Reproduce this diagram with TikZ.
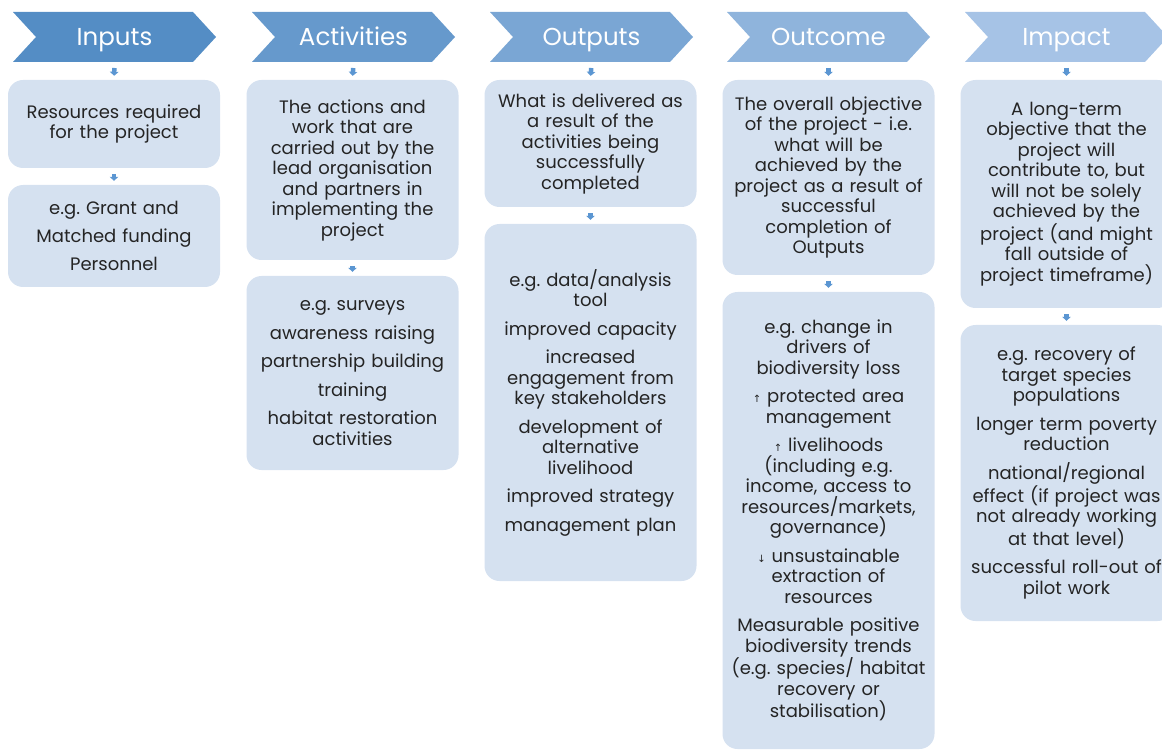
\documentclass[tikz,border=0pt]{standalone}
\usepackage{fontspec}
\setmainfont{Poppins}
\newfontfamily\arrowfont{DejaVu Sans}
\usetikzlibrary{arrows.meta}
\frenchspacing
\definecolor{cA}{HTML}{548DC5}
\definecolor{cB}{HTML}{6699CC}
\definecolor{cC}{HTML}{7AA6D4}
\definecolor{cD}{HTML}{8FB4DC}
\definecolor{cE}{HTML}{A6C3E6}
\definecolor{boxc}{HTML}{D5E1F0}
\definecolor{arrc}{HTML}{5B96D2}
\definecolor{txt}{HTML}{242424}
\newcommand\chev[2]{\fill[#2] (#1,12) -- ++(180,0) -- ++(23,25) -- ++(-23,25) -- ++(-180,0) -- ++(23,-25) -- cycle;}
\newcommand\up{{\arrowfont\fontsize{10}{10}\selectfont ↑}}
\newcommand\dn{{\arrowfont\fontsize{10}{10}\selectfont ↓}}
\begin{document}
\begin{tikzpicture}[x=1pt,y=-1pt,
  hdr/.style={text=white,font=\fontsize{24.5}{28}\selectfont,inner sep=0pt,anchor=base},
  box/.style={fill=boxc,rounded corners=15pt,minimum width=212pt,text width=208pt,align=center,
    font=\fontsize{18}{20.5}\selectfont,text=txt,inner sep=0pt},
  con/.style={draw=arrc,line width=4.5pt,-{Triangle[width=8.5pt,length=4pt]},shorten <=6pt,shorten >=4pt}]
\useasboundingbox (0,0) rectangle (1162,751);
\chev{13}{cA}
\chev{252}{cB}
\chev{490}{cC}
\chev{727}{cD}
\chev{965}{cE}
\node[hdr] (h1) at (114.5,45.5) {Inputs};
\node[hdr] (h2) at (353.5,45.5) {Activities};
\node[hdr] (h3) at (591.5,45.5) {Outputs};
\node[hdr] (h4) at (828.5,45.5) {Outcome};
\node[hdr] (h5) at (1066.5,45.5) {Impact};
% Inputs
\node[box,minimum height=88pt] (a1) at (114,124) {Resources required\\for the project};
\node[box,minimum height=102pt] (a2) at (114,236) {e.g. Grant and\\[7.5pt]Matched funding\\[7.5pt]Personnel};
% Activities
\node[box,minimum height=180pt] (b1) at (352.5,170) {The actions and\\work that are\\carried out by the\\lead organisation\\and partners in\\implementing the\\project};
\node[box,minimum height=194pt] (b2) at (352.5,373) {e.g. surveys\\[8pt]awareness raising\\[8pt]partnership building\\[8pt]training\\[8pt]habitat restoration\\activities};
% Outputs
\node[box,minimum height=127pt] (c1) at (590.5,143.5) {What is delivered as\\a result of the\\activities being\\successfully\\completed};
\node[box,minimum height=357pt] (c2) at (590.5,402.5) {e.g. data/analysis\\tool\\[8pt]improved capacity\\[8pt]increased\\engagement from\\key stakeholders\\[8pt]development of\\alternative\\livelihood\\[8pt]improved strategy\\[8pt]management plan};
% Outcome
\node[box,minimum height=195pt] (d1) at (828.5,177.5) {The overall objective\\of the project - i.e.\\what will be\\achieved by the\\project as a result of\\successful\\completion of\\Outputs};
\node[box,minimum height=457pt] (d2) at (828.5,520.5) {e.g. change in\\drivers of\\biodiversity loss\\[8pt]\up\ protected area\\management\\[8pt]\up\ livelihoods\\(including e.g.\\income, access to\\resources/markets,\\governance)\\[8pt]\dn\ unsustainable\\extraction of\\resources\\[8pt]Measurable positive\\biodiversity trends\\(e.g. species/ habitat\\recovery or\\stabilisation)};
% Impact
\node[box,minimum height=228pt] (e1) at (1066.5,194) {A long-term\\objective that the\\project will\\contribute to, but\\will not be solely\\achieved by the\\project (and might\\fall outside of\\project timeframe)};
\node[box,minimum height=296pt] (e2) at (1066.5,473) {e.g. recovery of\\target species\\populations\\[8pt]longer term poverty\\reduction\\[8pt]national/regional\\effect (if project was\\not already working\\at that level)\\[8pt]successful roll-out of\\pilot work};
% connectors
\draw[con] (h1.south |- 0,62) -- (a1.north);
\draw[con] (a1.south) -- (a2.north);
\draw[con] (h2.south |- 0,62) -- (b1.north);
\draw[con] (b1.south) -- (b2.north);
\draw[con] (h3.south |- 0,62) -- (c1.north);
\draw[con] (c1.south) -- (c2.north);
\draw[con] (h4.south |- 0,62) -- (d1.north);
\draw[con] (d1.south) -- (d2.north);
\draw[con] (h5.south |- 0,62) -- (e1.north);
\draw[con] (e1.south) -- (e2.north);
\end{tikzpicture}
\end{document}
